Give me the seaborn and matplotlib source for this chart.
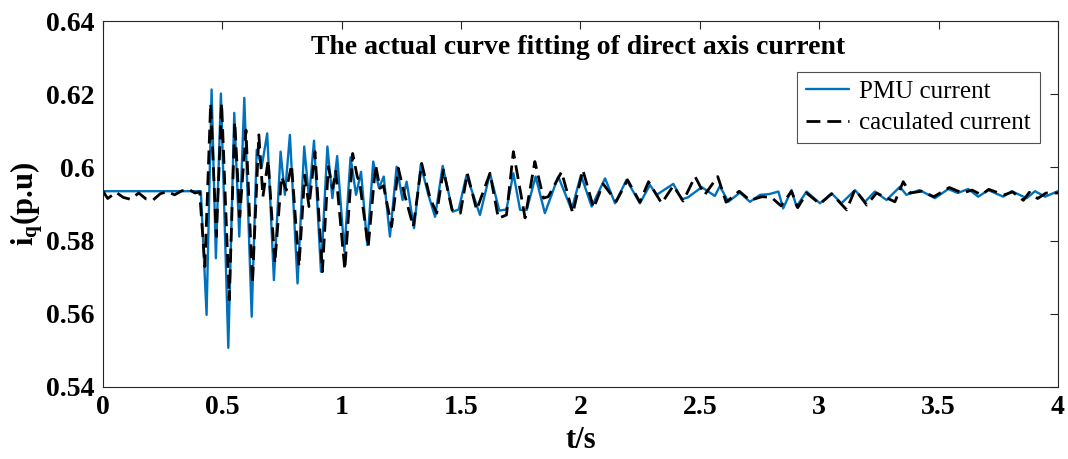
#!/usr/bin/env python3
"""Direct axis current: PMU measurement vs calculated curve."""

import matplotlib
matplotlib.use("Agg")
import matplotlib.pyplot as plt
import pandas as pd
import seaborn as sns

# PMU current (peaks / troughs)
t_pmu = [
    0.000, 0.410, 0.434, 0.455, 0.473, 0.494, 0.525, 0.550, 0.571, 0.592,
    0.623, 0.644, 0.665, 0.688, 0.716, 0.744, 0.762, 0.783, 0.815, 0.843,
    0.863, 0.884, 0.913, 0.940, 0.961, 0.981, 1.011, 1.037, 1.060, 1.081,
    1.107, 1.132, 1.156, 1.176, 1.202, 1.230, 1.255, 1.272, 1.303, 1.331,
    1.363, 1.391, 1.423, 1.465, 1.490, 1.523, 1.579, 1.621, 1.660, 1.690,
    1.719, 1.747, 1.775, 1.812, 1.851, 1.907, 1.963, 2.002, 2.047, 2.103,
    2.145, 2.193, 2.249, 2.291, 2.319, 2.389, 2.424, 2.450, 2.508, 2.563,
    2.584, 2.619, 2.668, 2.710, 2.752, 2.790, 2.829, 2.849, 2.884, 2.905,
    2.947, 3.003, 3.052, 3.093, 3.150, 3.192, 3.233, 3.282, 3.338, 3.365,
    3.420, 3.485, 3.541, 3.580, 3.624, 3.666, 3.708, 3.771, 3.806, 3.869,
    3.904, 3.946, 4.000,
]
i_pmu = [
    0.5935, 0.5935, 0.5597, 0.6213, 0.5752, 0.6202, 0.5507, 0.6149, 0.5811, 0.6190,
    0.5592, 0.6048, 0.6002, 0.6093, 0.5692, 0.6043, 0.5925, 0.6089, 0.5683, 0.6057,
    0.5916, 0.6073, 0.5715, 0.6057, 0.5916, 0.6031, 0.5770, 0.6028, 0.5925, 0.5988,
    0.5788, 0.6016, 0.5944, 0.5975, 0.5811, 0.6002, 0.5911, 0.5961, 0.5834, 0.6007,
    0.5925, 0.5865, 0.6004, 0.5879, 0.5885, 0.5979, 0.5870, 0.5984, 0.5882, 0.5885,
    0.5984, 0.5884, 0.5884, 0.5975, 0.5875, 0.5975, 0.5884, 0.5979, 0.5893, 0.5970,
    0.5902, 0.5966, 0.5902, 0.5952, 0.5925, 0.5955, 0.5913, 0.5918, 0.5946, 0.5922,
    0.5949, 0.5906, 0.5931, 0.5906, 0.5925, 0.5927, 0.5934, 0.5888, 0.5938, 0.5893,
    0.5934, 0.5902, 0.5929, 0.5902, 0.5938, 0.5906, 0.5934, 0.5911, 0.5947, 0.5925,
    0.5938, 0.5916, 0.5941, 0.5930, 0.5941, 0.5920, 0.5938, 0.5920, 0.5935, 0.5916,
    0.5935, 0.5920, 0.5935,
]

# calculated current
t_calc = [
    0.000, 0.020, 0.055, 0.085, 0.115, 0.150, 0.180, 0.210, 0.240, 0.270,
    0.300, 0.330, 0.360, 0.385, 0.405, 0.427, 0.451, 0.475, 0.497, 0.529,
    0.552, 0.573, 0.599, 0.626, 0.653, 0.670, 0.692, 0.720, 0.748, 0.768,
    0.790, 0.821, 0.845, 0.863, 0.888, 0.919, 0.944, 0.962, 0.975, 1.013,
    1.046, 1.065, 1.075, 1.111, 1.142, 1.160, 1.175, 1.209, 1.237, 1.262,
    1.300, 1.335, 1.370, 1.398, 1.426, 1.462, 1.497, 1.526, 1.565, 1.621,
    1.656, 1.690, 1.719, 1.768, 1.809, 1.845, 1.865, 1.921, 1.968, 2.010,
    2.055, 2.095, 2.150, 2.197, 2.249, 2.285, 2.340, 2.389, 2.430, 2.480,
    2.520, 2.575, 2.610, 2.665, 2.710, 2.760, 2.800, 2.840, 2.884, 2.910,
    2.947, 3.003, 3.052, 3.115, 3.150, 3.199, 3.240, 3.317, 3.352, 3.380,
    3.430, 3.480, 3.545, 3.600, 3.640, 3.680, 3.710, 3.775, 3.810, 3.855,
    3.880, 3.915, 3.950, 4.000,
]
i_calc = [
    0.5935, 0.5915, 0.5932, 0.5918, 0.5913, 0.5930, 0.5914, 0.5911, 0.5928, 0.5934,
    0.5925, 0.5936, 0.5940, 0.5930, 0.5933, 0.5729, 0.6175, 0.5811, 0.6176, 0.5638,
    0.6125, 0.5865, 0.6102, 0.5683, 0.6089, 0.5920, 0.6020, 0.5738, 0.5975, 0.5938,
    0.6007, 0.5729, 0.5979, 0.5893, 0.6043, 0.5715, 0.6002, 0.5943, 0.5990, 0.5720,
    0.6038, 0.5975, 0.5960, 0.5783, 0.6007, 0.5943, 0.5950, 0.5838, 0.5998, 0.5929,
    0.5838, 0.6011, 0.5916, 0.5875, 0.5993, 0.5884, 0.5875, 0.5984, 0.5884, 0.5984,
    0.5861, 0.5870, 0.6043, 0.5862, 0.6016, 0.5916, 0.5920, 0.5988, 0.5875, 0.5993,
    0.5889, 0.5955, 0.5907, 0.5966, 0.5905, 0.5961, 0.5902, 0.5950, 0.5908, 0.5975,
    0.5925, 0.5975, 0.5905, 0.5935, 0.5910, 0.5920, 0.5918, 0.5895, 0.5935, 0.5890,
    0.5930, 0.5900, 0.5928, 0.5884, 0.5940, 0.5897, 0.5930, 0.5906, 0.5961, 0.5930,
    0.5935, 0.5920, 0.5945, 0.5930, 0.5938, 0.5925, 0.5940, 0.5925, 0.5933, 0.5910,
    0.5932, 0.5915, 0.5930, 0.5930,
]

x_ticks = [0, 0.5, 1, 1.5, 2, 2.5, 3, 3.5, 4]
x_tick_labels = ["0", "0.5", "1", "1.5", "2", "2.5", "3", "3.5", "4"]
y_ticks = [0.54, 0.56, 0.58, 0.60, 0.62, 0.64]
y_tick_labels = ["0.54", "0.56", "0.58", "0.6", "0.62", "0.64"]

sns.set_style("white")
plt.rcParams["font.family"] = ["Liberation Serif", "DejaVu Serif"]
plt.rcParams["text.color"] = "black"
plt.rcParams["axes.labelcolor"] = "black"
plt.rcParams["mathtext.fontset"] = "custom"
plt.rcParams["mathtext.rm"] = "Liberation Serif"
plt.rcParams["mathtext.bf"] = "Liberation Serif:bold"
plt.rcParams["mathtext.it"] = "Liberation Serif:italic"

pmu = pd.DataFrame({"t": t_pmu, "i": i_pmu})
calc = pd.DataFrame({"t": t_calc, "i": i_calc})

fig = plt.figure(figsize=(10.68, 4.59), dpi=100)
ax = fig.add_axes([0.0964, 0.1569, 0.8942, 0.7973])

sns.lineplot(data=pmu, x="t", y="i", ax=ax, color="#0072BD", linewidth=1.7,
             sort=False, estimator=None, label="PMU current")
sns.lineplot(data=calc, x="t", y="i", ax=ax, color="black", linewidth=2.0,
             sort=False, estimator=None, label="caculated current",
             dashes=False, linestyle=(0, (5, 2.5)))

ax.set_xlim(0, 4)
ax.set_ylim(0.54, 0.64)
ax.set_xticks(x_ticks)
ax.set_xticklabels(x_tick_labels)
ax.set_yticks(y_ticks)
ax.set_yticklabels(y_tick_labels)
ax.tick_params(direction="in", length=6, width=0.8, top=True, right=True,
               labelsize=20, colors="#262626", labelcolor="black", pad=6)
for lab in ax.get_xticklabels() + ax.get_yticklabels():
    lab.set_fontweight("bold")
for sp in ax.spines.values():
    sp.set_visible(True)
    sp.set_color("#262626")
    sp.set_linewidth(0.8)

ax.set_xlabel("t/s", fontsize=22, fontweight="bold", labelpad=4)
ax.set_ylabel(r"$\mathbf{i}_\mathbf{q}$(p.u)", fontsize=22, fontweight="bold", labelpad=1)
ax.text(0.497, 0.929, "The actual curve fitting of direct axis current",
        transform=ax.transAxes, ha="center", va="center",
        fontsize=20, fontweight="bold")

leg = ax.legend(loc="upper right", bbox_to_anchor=(0.981, 0.861), fontsize=18,
                frameon=True, fancybox=False, edgecolor="#262626",
                handlelength=1.75, handletextpad=0.4, borderpad=0.35,
                labelspacing=0.35, borderaxespad=0)
leg.get_frame().set_linewidth(0.8)

fig.savefig("out.png", dpi=100)
